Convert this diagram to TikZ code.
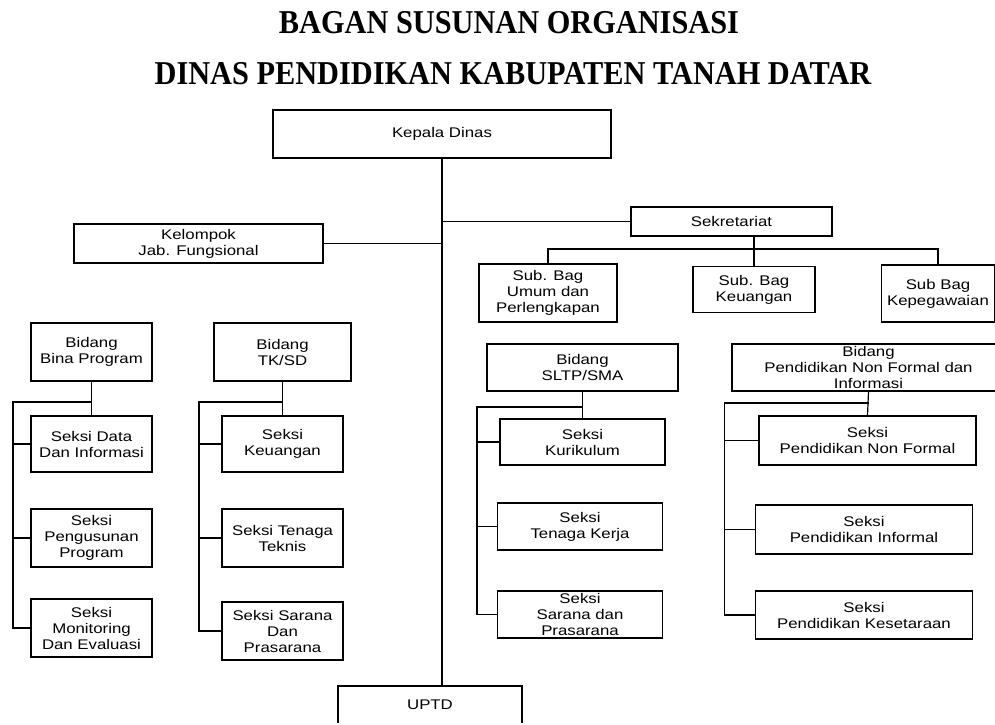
\documentclass[tikz,border=0pt]{standalone}
\usepackage{fontspec}
\setmainfont{Liberation Serif}
\newfontfamily\arialx[FakeStretch=1.2]{Liberation Sans}
\newfontfamily\judulfont[FakeStretch=0.91]{Liberation Serif Bold}

\tikzset{
  blok/.style 2 args={draw, line width=0.9pt, inner sep=1pt, align=center,
    minimum width=#1*0.75pt, minimum height=#2*0.75pt,
    font=\arialx\fontsize{10.5}{12}\selectfont},
  garis/.style={line width=0.9pt},
  judul/.style={font=\judulfont\fontsize{25}{28}\selectfont}
}

\begin{document}
\begin{tikzpicture}[x=0.75pt, y=-0.75pt]
\useasboundingbox (0,0) rectangle (995,724);
\clip (-5,-5) rectangle (995,722.5);

% judul
\node[judul] (judul1) at (509,23) {BAGAN SUSUNAN ORGANISASI};
\node[judul] (judul2) at (513,74) {DINAS PENDIDIKAN KABUPATEN TANAH DATAR};

% pimpinan dan garis utama
\node[blok={338}{48}] (kadis) at (442,134) {Kepala Dinas};
\node[blok={184}{38}] (uptd) at (430,705) {UPTD};
\draw[garis] (kadis.south) -- (kadis.south |- uptd.north);

\node[blok={249}{39}] (fungsional) at (198.5,243.5) {Kelompok\\Jab. Fungsional};
\draw[garis] (fungsional.east) -- (fungsional.east -| kadis.south);

% sekretariat
\node[blok={201}{29}] (sekre) at (731.5,221.5) {Sekretariat};
\draw[garis] (sekre.west) -- (sekre.west -| kadis.south);
\node[blok={138}{58}] (umum) at (548,293) {Sub. Bag\\Umum dan\\Perlengkapan};
\node[blok={122}{46}] (keu) at (754,289.5) {Sub. Bag\\Keuangan};
\node[blok={113}{57}] (pegawai) at (938,293.5) {Sub Bag\\Kepegawaian};
\coordinate (sb) at (0,249);
\draw[garis] (keu.north |- sekre.south) -- (keu.north);
\draw[garis] (umum.north) -- (umum.north |- sb) -- (pegawai.north |- sb) -- (pegawai.north);

% bidang bina program
\node[blok={121}{58}] (bina) at (91.5,352) {Bidang\\Bina Program};
\node[blok={121}{56}] (bina1) at (91.5,444) {Seksi Data\\Dan Informasi};
\node[blok={121}{58}] (bina2) at (91.5,538) {Seksi\\Pengusunan\\Program};
\node[blok={121}{58}] (bina3) at (91.5,628) {Seksi\\Monitoring\\Dan Evaluasi};
\coordinate (bina-kiri) at (13,402);
\draw[garis] (bina.south) -- (bina1.north);
\draw[garis] (bina-kiri -| bina.south) -- (bina-kiri) |- (bina3.west);
\foreach \s in {bina1,bina2}
  \draw[garis] (\s.west) -- (\s.west -| bina-kiri);

% bidang tk/sd
\node[blok={137}{58}] (tksd) at (282.5,352) {Bidang\\TK/SD};
\node[blok={121}{56}] (tksd1) at (282.5,444) {Seksi\\Keuangan};
\node[blok={121}{58}] (tksd2) at (282.5,538) {Seksi Tenaga\\Teknis};
\node[blok={121}{58}] (tksd3) at (282.5,631) {Seksi Sarana\\Dan\\Prasarana};
\coordinate (tksd-kiri) at (199,402);
\draw[garis] (tksd.south) -- (tksd1.north);
\draw[garis] (tksd-kiri -| tksd.south) -- (tksd-kiri) |- (tksd3.west);
\foreach \s in {tksd1,tksd2}
  \draw[garis] (\s.west) -- (\s.west -| tksd-kiri);

% bidang sltp/sma
\node[blok={191}{47}] (sltp) at (582.5,367.5) {Bidang\\SLTP/SMA};
\node[blok={165}{46}] (sltp1) at (582.5,442) {Seksi\\Kurikulum};
\node[blok={165}{47}] (sltp2) at (580,526.5) {Seksi\\Tenaga Kerja};
\node[blok={165}{47}] (sltp3) at (580,614.5) {Seksi\\Sarana dan\\Prasarana};
\coordinate (sltp-kiri) at (477,407);
\draw[garis] (sltp.south) -- (sltp1.north);
\draw[garis] (sltp-kiri -| sltp.south) -- (sltp-kiri) |- (sltp3.west);
\foreach \s in {sltp1,sltp2}
  \draw[garis] (\s.west) -- (\s.west -| sltp-kiri);

% bidang pendidikan non formal
\node[blok={273}{47}] (pnf) at (868.5,367.5) {Bidang\\Pendidikan Non Formal dan\\Informasi};
\node[blok={217}{49}] (pnf1) at (867.5,440.5) {Seksi\\Pendidikan Non Formal};
\node[blok={217}{49}] (pnf2) at (864,529.5) {Seksi\\Pendidikan Informal};
\node[blok={217}{48}] (pnf3) at (864,615) {Seksi\\Pendidikan Kesetaraan};
\coordinate (pnf-kiri) at (724.5,403);
\draw[garis] (pnf.south) -- (pnf1.north);
\draw[garis] (pnf-kiri -| pnf.south) -- (pnf-kiri) |- (pnf3.west);
\foreach \s in {pnf1,pnf2}
  \draw[garis] (\s.west) -- (\s.west -| pnf-kiri);
\end{tikzpicture}
\end{document}
